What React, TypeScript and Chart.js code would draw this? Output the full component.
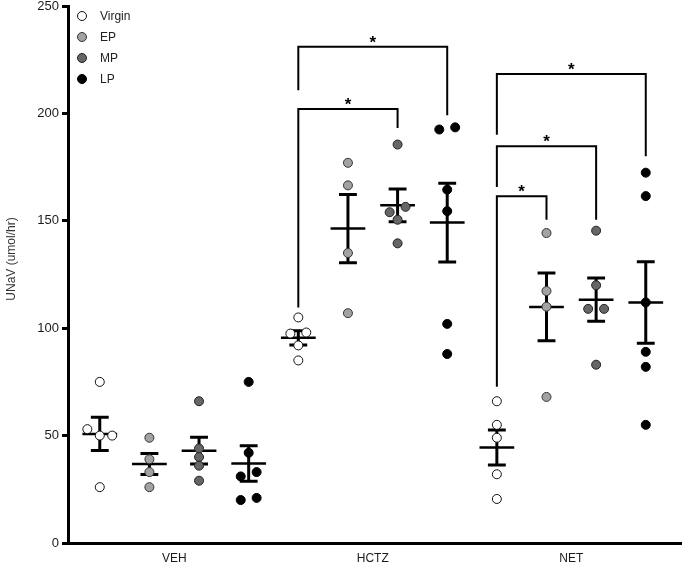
import { useEffect, useRef } from 'react';
import { Chart, registerables } from 'chart.js';

Chart.register(...registerables);

// ---- data ----
const groupLabels = ['VEH', 'HCTZ', 'NET'];
const seriesNames = ['Virgin', 'EP', 'MP', 'LP'];
const yTickValues = [0, 50, 100, 150, 200, 250];
const yAxisTitle = 'UNaV (umol/hr)';

const vehVirgin = [75, 53, 50, 50, 26];
const vehEP = [49, 39, 33, 26];
const vehMP = [66, 44, 40, 36, 29];
const vehLP = [75, 42, 31, 33, 20, 21];

const hctzVirgin = [105, 97.5, 98, 92, 85];
const hctzEP = [177, 166.5, 135, 107];
const hctzMP = [185.5, 154, 156.5, 150.5, 139.5];
const hctzLP = [192.5, 193.5, 164.5, 154.5, 102, 88];

const netVirgin = [66, 55, 49, 32, 20.5];
const netEP = [144.3, 117.3, 110, 68];
const netMP = [145.4, 120, 109, 109, 83];
const netLP = [172.4, 161.5, 112, 89, 82, 55];

// significance brackets (series index across the 12 columns, values on y scale)
const bracketFrom = [4, 4, 8, 8, 8];
const bracketTo = [6, 7, 9, 10, 11];
const bracketLevel = [202, 231, 161.4, 184.7, 218.3];
const bracketLeftEnd = [109.6, 210.8, 72.8, 165.7, 190.1];
const bracketRightEnd = [193.2, 199.1, 150.5, 150.5, 180];
const bracketLabel = ['*', '*', '*', '*', '*'];

// ---- layout helpers (horizontal spread of overlapping points) ----
const vehVirginDx = [0, -0.25, 0, 0.25, 0];
const vehLPDx = [0, 0, -0.16, 0.16, -0.16, 0.16];
const hctzVirginDx = [0, -0.16, 0.16, 0, 0];
const hctzMPDx = [0, -0.16, 0.16, 0, 0];
const hctzLPDx = [-0.16, 0.16, 0, 0, 0, 0];
const netMPDx = [0, 0, -0.16, 0.16, 0];

const groupData = [
  [vehVirgin, vehEP, vehMP, vehLP],
  [hctzVirgin, hctzEP, hctzMP, hctzLP],
  [netVirgin, netEP, netMP, netLP],
];
const groupDx: (number[] | null)[][] = [
  [vehVirginDx, null, null, vehLPDx],
  [hctzVirginDx, null, hctzMPDx, hctzLPDx],
  [null, null, netMPDx, null],
];

const fills = ['#ffffff', '#a2a2a2', '#666666', '#000000'];
const borders = ['#111111', '#333333', '#222222', '#000000'];
const FONT = '"Liberation Sans", Arial, Helvetica, sans-serif';

function meanSem(v: number[]) {
  const n = v.length;
  const m = v.reduce((a, b) => a + b, 0) / n;
  const sd = Math.sqrt(v.reduce((a, b) => a + (b - m) * (b - m), 0) / (n - 1));
  return { m, sem: sd / Math.sqrt(n) };
}

const errorBarPlugin = {
  id: 'errorBars',
  beforeDatasetsDraw(chart: any) {
    const { ctx, scales } = chart;
    const xs = scales.x, ys = scales.y;
    ctx.save();
    ctx.strokeStyle = '#000';
    ctx.lineCap = 'butt';
    groupData.forEach((series, g) => {
      series.forEach((vals, s) => {
        const cx = g * 4 + s;
        const { m, sem } = meanSem(vals);
        const px = xs.getPixelForValue(cx);
        const yT = ys.getPixelForValue(m + sem);
        const yB = ys.getPixelForValue(m - sem);
        const yM = ys.getPixelForValue(m);
        ctx.lineWidth = 3;
        ctx.beginPath();
        ctx.moveTo(px, yT);
        ctx.lineTo(px, yB);
        ctx.stroke();
        const c0 = xs.getPixelForValue(cx - 0.18), c1 = xs.getPixelForValue(cx + 0.18);
        ctx.beginPath();
        ctx.moveTo(c0, yT); ctx.lineTo(c1, yT);
        ctx.moveTo(c0, yB); ctx.lineTo(c1, yB);
        ctx.stroke();
        ctx.lineWidth = 2.5;
        ctx.beginPath();
        ctx.moveTo(xs.getPixelForValue(cx - 0.35), yM);
        ctx.lineTo(xs.getPixelForValue(cx + 0.35), yM);
        ctx.stroke();
      });
    });
    ctx.restore();
  },
};

const bracketPlugin = {
  id: 'brackets',
  afterDatasetsDraw(chart: any) {
    const { ctx, scales } = chart;
    const xs = scales.x, ys = scales.y;
    ctx.save();
    ctx.strokeStyle = '#000';
    ctx.lineWidth = 2;
    ctx.lineJoin = 'miter';
    bracketFrom.forEach((f, i) => {
      const xL = xs.getPixelForValue(f);
      const xR = xs.getPixelForValue(bracketTo[i]);
      const yL = ys.getPixelForValue(bracketLevel[i]);
      ctx.beginPath();
      ctx.moveTo(xL, ys.getPixelForValue(bracketLeftEnd[i]));
      ctx.lineTo(xL, yL);
      ctx.lineTo(xR, yL);
      ctx.lineTo(xR, ys.getPixelForValue(bracketRightEnd[i]));
      ctx.stroke();
      ctx.fillStyle = '#000';
      ctx.font = `bold 17px ${FONT}`;
      ctx.textAlign = 'center';
      ctx.textBaseline = 'alphabetic';
      ctx.fillText(bracketLabel[i], (xL + xR) / 2, yL + 1);
    });
    ctx.restore();
  },
};

const decorPlugin = {
  id: 'decor',
  afterDraw(chart: any) {
    const { ctx } = chart;
    ctx.save();
    // legend
    const ly = [16, 37, 58, 79];
    seriesNames.forEach((name, s) => {
      ctx.beginPath();
      ctx.arc(82, ly[s], 4.5, 0, Math.PI * 2);
      ctx.fillStyle = fills[s];
      ctx.fill();
      ctx.lineWidth = 1;
      ctx.strokeStyle = borders[s];
      ctx.stroke();
      ctx.fillStyle = '#222';
      ctx.font = `12px ${FONT}`;
      ctx.textAlign = 'left';
      ctx.textBaseline = 'middle';
      ctx.fillText(name, 100, ly[s] + 0.5);
    });
    // y title
    ctx.translate(12, 259);
    ctx.rotate(-Math.PI / 2);
    ctx.fillStyle = '#333';
    ctx.font = `12px ${FONT}`;
    ctx.textAlign = 'center';
    ctx.textBaseline = 'middle';
    ctx.fillText(yAxisTitle, 0, 0);
    ctx.restore();
  },
};

export default function App() {
  const ref = useRef<HTMLCanvasElement>(null);
  useEffect(() => {
    if (!ref.current) return;
    const datasets = seriesNames.map((name, s) => ({
      label: name,
      data: groupData.flatMap((series, g) =>
        series[s].map((v, k) => ({
          x: g * 4 + s + (groupDx[g][s] ? (groupDx[g][s] as number[])[k] : 0),
          y: v,
        }))
      ),
      pointRadius: 4.5,
      pointHoverRadius: 4.5,
      pointBackgroundColor: fills[s],
      pointBorderColor: borders[s],
      pointBorderWidth: 1,
      showLine: false,
    }));
    const chart = new Chart(ref.current, {
      type: 'scatter',
      data: { datasets },
      plugins: [errorBarPlugin, bracketPlugin, decorPlugin],
      options: {
        animation: false,
        responsive: false,
        events: [],
        layout: { padding: { top: 6, right: 1, left: 0, bottom: 0 } },
        plugins: { legend: { display: false }, tooltip: { enabled: false } },
        scales: {
          x: {
            type: 'linear',
            min: -0.64,
            max: 11.72,
            grid: { display: false, drawTicks: false, tickLength: 0 },
            border: { display: true, width: 3, color: '#000' },
            ticks: {
              padding: 8,
              color: '#1a1a1a',
              font: { size: 12, family: FONT },
              callback: (_v: any, i: number) => groupLabels[i],
            },
            afterBuildTicks: (s: any) => {
              s.ticks = groupLabels.map((_, g) => ({ value: g * 4 + 1.5 }));
            },
            afterFit: (s: any) => {
              s.height = 20;
              s.paddingLeft = 0;
              s.paddingRight = 0;
            },
          },
          y: {
            min: 0,
            max: 250,
            grid: {
              drawOnChartArea: false,
              drawTicks: true,
              tickLength: 6,
              color: '#000',
              lineWidth: 3,
            },
            border: { display: true, width: 3, color: '#000' },
            ticks: {
              padding: 3,
              color: '#1a1a1a',
              font: { size: 13, family: FONT },
            },
            afterBuildTicks: (s: any) => {
              s.ticks = yTickValues.map((v) => ({ value: v }));
            },
            afterFit: (s: any) => {
              s.width = 68;
              s.paddingTop = 0;
              s.paddingBottom = 0;
            },
          },
        },
      } as any,
    });
    return () => chart.destroy();
  }, []);
  return (
    <canvas
      ref={ref}
      width={687}
      height={563}
      style={{ position: 'absolute', left: 0, top: 0, width: 687, height: 563 }}
    />
  );
}
